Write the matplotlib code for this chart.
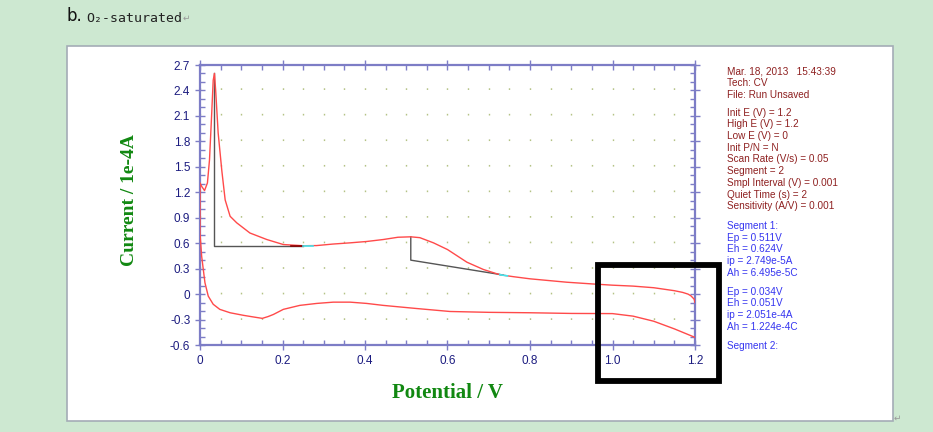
import numpy as np
import matplotlib
matplotlib.use("Agg")
import matplotlib.pyplot as plt
from matplotlib.patches import Rectangle

# CV data (potential in V, current in 1e-4 A)
# segment 1: negative scan 1.2 -> 0
seg1_v = [1.2, 1.198, 1.19, 1.183, 1.17, 1.15, 1.1, 1.05, 1.0, 0.95, 0.889, 0.8,
          0.76, 0.727, 0.687, 0.647, 0.6, 0.566, 0.533, 0.511, 0.48, 0.444, 0.404,
          0.364, 0.323, 0.283, 0.25, 0.202, 0.162, 0.121, 0.089, 0.073, 0.061,
          0.053, 0.044, 0.038, 0.035, 0.032, 0.028, 0.023, 0.018, 0.011, 0.004, 0.0]
seg1_i = [-0.10, -0.06, -0.02, 0.0, 0.02, 0.04, 0.075, 0.094, 0.105, 0.12, 0.14, 0.18,
          0.205, 0.228, 0.29, 0.376, 0.525, 0.604, 0.665, 0.675, 0.67, 0.643, 0.62,
          0.604, 0.59, 0.572, 0.57, 0.584, 0.643, 0.72, 0.84, 0.917, 1.11,
          1.45, 1.9, 2.4, 2.6, 2.52, 2.09, 1.58, 1.31, 1.22, 1.27, 1.31]
# segment 2: positive scan 0 -> 1.2
seg2_v = [0.0, 0.0, 0.004, 0.008, 0.012, 0.02, 0.032, 0.048, 0.073, 0.105, 0.13,
          0.151, 0.165, 0.178, 0.202, 0.242, 0.283, 0.323, 0.364, 0.404, 0.444,
          0.525, 0.606, 0.7, 0.8, 0.9, 1.0, 1.05, 1.1, 1.15, 1.2]
seg2_i = [1.31, 0.72, 0.447, 0.29, 0.134, -0.024, -0.12, -0.18, -0.22, -0.25, -0.27,
          -0.286, -0.265, -0.24, -0.18, -0.133, -0.11, -0.095, -0.095, -0.11, -0.133,
          -0.17, -0.205, -0.215, -0.22, -0.228, -0.23, -0.26, -0.32, -0.41, -0.51]

# peak baselines
base1_v = [0.034, 0.034, 0.25]
base1_i = [2.6, 0.563, 0.563]
base2_v = [0.511, 0.511, 0.735]
base2_i = [0.675, 0.40, 0.225]

x_ticks = [0, 0.2, 0.4, 0.6, 0.8, 1.0, 1.2]
x_labels = ["0", "0.2", "0.4", "0.6", "0.8", "1.0", "1.2"]
y_ticks = [2.7, 2.4, 2.1, 1.8, 1.5, 1.2, 0.9, 0.6, 0.3, 0, -0.3, -0.6]
y_labels = ["2.7", "2.4", "2.1", "1.8", "1.5", "1.2", "0.9", "0.6", "0.3", "0", "-0.3", "-0.6"]

info_lines = ["Mar. 18, 2013   15:43:39", "Tech: CV", "File: Run Unsaved"]
param_lines = ["Init E (V) = 1.2", "High E (V) = 1.2", "Low E (V) = 0", "Init P/N = N",
               "Scan Rate (V/s) = 0.05", "Segment = 2", "Smpl Interval (V) = 0.001",
               "Quiet Time (s) = 2", "Sensitivity (A/V) = 0.001"]
peak1_lines = ["Segment 1:", "Ep = 0.511V", "Eh = 0.624V", "ip = 2.749e-5A", "Ah = 6.495e-5C"]
peak2_lines = ["Ep = 0.034V", "Eh = 0.051V", "ip = 2.051e-4A", "Ah = 1.224e-4C"]
seg2_lines = ["Segment 2:"]

W, H = 933, 432
axis_col = "#7d7dc6"
label_col = "#1c1c80"

fig = plt.figure(figsize=(W / 100, H / 100), dpi=100, facecolor="#cde8d1")

def px(x, y):
    return x / W, 1 - y / H

# white panel
fig.patches.append(Rectangle(px(67, 421), (893 - 67) / W, (421 - 46) / H,
                             transform=fig.transFigure, facecolor="white",
                             edgecolor="#a4acb6", lw=1.2, zorder=-1))

ax = fig.add_axes([200 / W, 1 - 345 / H, 495 / W, 280 / H])
ax.set_facecolor("white")
ax.set_xlim(0, 1.2)
ax.set_ylim(-0.6, 2.7)

ax.plot(seg1_v + seg2_v, seg1_i + seg2_i, color="#ff4a4a", lw=1.0, zorder=3)
ax.plot(base1_v, base1_i, color="#555555", lw=1.0, zorder=2)
ax.plot(base2_v, base2_i, color="#555555", lw=1.0, zorder=2)
# baseline end markers
ax.plot([0.22, 0.25], [0.563, 0.563], color="#8b0000", lw=1.2, zorder=4)
ax.plot([0.25, 0.275], [0.57, 0.57], color="#40e8f0", lw=1.2, zorder=4)
ax.plot([0.727, 0.745], [0.228, 0.215], color="#40e8f0", lw=1.2, zorder=4)

ax.set_xticks(x_ticks)
ax.set_xticklabels(x_labels)
ax.set_yticks(y_ticks)
ax.set_yticklabels(y_labels)
ax.set_xticks(np.arange(0, 1.2001, 0.05), minor=True)
ax.set_yticks(np.arange(-0.6, 2.7001, 0.1), minor=True)

for s in ax.spines.values():
    s.set_color(axis_col)
    s.set_linewidth(1.6)

ax.tick_params(which="major", direction="inout", length=7, width=1, color=axis_col,
               labelcolor=label_col, labelsize=8.5, top=True, right=True, pad=3.5)
ax.tick_params(which="minor", direction="in", length=3.5, width=1, color=axis_col,
               top=True, right=True)
for lab in ax.get_xticklabels() + ax.get_yticklabels():
    lab.set_family("Liberation Sans")

# dotted grid: dots every 0.3 along vertical lines every 0.05
ax.grid(True, axis="x", which="both", color="#b4c285", lw=1.0,
        linestyle=(0, (1.2, 17.2)))

# axis titles
fig.text(*px(447, 393), "Potential / V", color="#118811", fontsize=15,
         fontweight="bold", family="Liberation Serif", ha="center", va="center")
fig.text(*px(130, 200), "Current / 1e-4A", color="#118811", fontsize=14,
         fontweight="bold", family="Liberation Serif", ha="center", va="center",
         rotation=90)

# instrument info on the right
def block(lines, y0, color):
    for k, t in enumerate(lines):
        fig.text(*px(727, y0 + k * 11.7), t, color=color, fontsize=7.2,
                 family="Liberation Sans", ha="left", va="center")

block(info_lines, 71.7, "#8e2020")
block(param_lines, 112.7, "#8e2020")
block(peak1_lines, 226, "#3535f0")
block(peak2_lines, 291.7, "#3535f0")
block(seg2_lines, 345.7, "#3535f0")

# highlight box
fig.patches.append(Rectangle(px(597.5, 381), 121 / W, 116 / H, transform=fig.transFigure,
                             fill=False, edgecolor="black", lw=4.2, zorder=5))

# heading
fig.text(*px(66, 16), "b.", fontsize=12, color="#111111", family="DejaVu Sans",
         ha="left", va="center")
fig.text(*px(86, 18), "O₂-saturated", fontsize=9.5, color="#222222",
         family="DejaVu Sans Mono", ha="left", va="center")
fig.text(*px(183, 18), "↵", fontsize=6.5, color="#999999", family="DejaVu Sans",
         ha="left", va="center")
fig.text(*px(894, 418), "↵", fontsize=6.5, color="#999999", family="DejaVu Sans",
         ha="left", va="center")

fig.savefig("out.png", dpi=100, facecolor=fig.get_facecolor())
